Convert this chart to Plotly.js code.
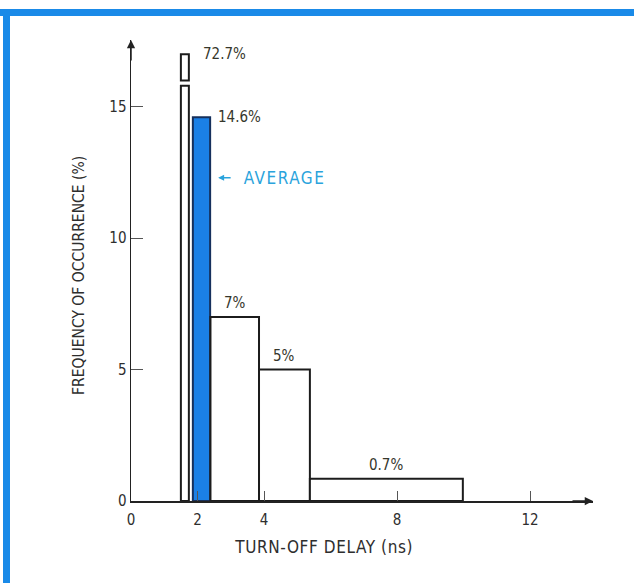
<!DOCTYPE html>
<html>
<head>
<meta charset="utf-8">
<script src="https://cdn.plot.ly/plotly-3.0.1.min.js"></script>
<style>
  html, body { margin: 0; padding: 0; background: #ffffff; }
  #chart { width: 634px; height: 583px; }
</style>
</head>
<body>
<div id="chart"></div>
<script>
// ---- data ----
const binLeft   = [1.50, 1.86, 2.39, 3.85, 5.38];   // ns
const binRight  = [1.74, 2.38, 3.85, 5.38, 9.98];   // ns
const freqValue = [72.7, 14.6, 7.0, 5.0, 0.85];     // % (drawn heights)
const freqLabel = ["72.7%", "14.6%", "7%", "5%", "0.7%"];
const averageIndex = 1;
const breakAt = 15.8, resumeAt = 16.0, capAt = 17.0; // broken tall bar
const xTickVals = [0, 2, 4, 8, 12];
const xTickText = ["0", "2", "4", "8", "12"];
const yTickVals = [0, 5, 10, 15];
const yTickText = ["0", "5", "10", "15"];
const xTitle = "TURN-OFF DELAY (ns)";
const yTitle = "FREQUENCY OF OCCURRENCE (%)";
const avgText = "AVERAGE";

// ---- layout geometry ----
const W = 634, H = 583;
const M = {l: 131, r: 41, t: 40, b: 82};
const PW = W - M.l - M.r, PH = H - M.t - M.b;
const px2x = px => (px - M.l) / PW;
const py2y = py => (H - M.b - py) / PH;

const FONT = "'Liberation Sans Narrow', 'DejaVu Sans Condensed', 'Arial Narrow', sans-serif";
const INK = "#222222";
const TXT = "#2e2e2e";
const LBL = "#36372c";
const BLUE = "#1b80e6";
const CYAN = "#2aa3dc";

const centers = binLeft.map((l, i) => (l + binRight[i]) / 2);
const widths = binLeft.map((l, i) => binRight[i] - l);
const lowerHeights = freqValue.map(v => Math.min(v, breakAt));
const fills = freqValue.map((v, i) => i === averageIndex ? BLUE : "#ffffff");
const lines = freqValue.map((v, i) => i === averageIndex ? "#16305c" : "#1c1c1c");

const broken = freqValue.map(v => v > breakAt);
const upX = centers.filter((c, i) => broken[i]);
const upW = widths.filter((w, i) => broken[i]);

const traces = [
  {
    type: "bar", x: centers, y: lowerHeights, width: widths,
    marker: {color: fills, line: {color: lines, width: 2}},
    hoverinfo: "skip", showlegend: false
  },
  {
    type: "bar", x: upX, y: upX.map(() => capAt - resumeAt), base: upX.map(() => resumeAt),
    width: upW,
    marker: {color: "#ffffff", line: {color: "#1c1c1c", width: 2}},
    hoverinfo: "skip", showlegend: false
  }
];

const annotations = [];
// value labels
freqValue.forEach((v, i) => {
  if (broken[i]) {
    annotations.push({x: binRight[i], y: capAt, xref: "x", yref: "y", text: freqLabel[i],
      showarrow: false, xanchor: "left", yanchor: "middle", xshift: 12,
      font: {family: FONT, size: 15, color: LBL}});
  } else if (i === averageIndex) {
    annotations.push({x: binRight[i], y: v, xref: "x", yref: "y", text: freqLabel[i],
      showarrow: false, xanchor: "left", yanchor: "middle", xshift: 6,
      font: {family: FONT, size: 15, color: LBL}});
  } else {
    annotations.push({x: centers[i], y: v, xref: "x", yref: "y", text: freqLabel[i],
      showarrow: false, xanchor: "center", yanchor: "bottom", yshift: 3,
      font: {family: FONT, size: 15, color: LBL}});
  }
});
// AVERAGE pointer
annotations.push({x: binRight[averageIndex], y: 12.3, xref: "x", yref: "y", text: "",
  showarrow: true, ax: 22, ay: 0, axref: "pixel", ayref: "pixel", arrowhead: 2,
  arrowsize: 0.8, arrowwidth: 1.5, arrowcolor: CYAN, standoff: 8});
annotations.push({x: binRight[averageIndex], y: 12.3, xref: "x", yref: "y", text: avgText,
  showarrow: false, xanchor: "left", yanchor: "middle", xshift: 37,
  font: {family: FONT, size: 17, color: CYAN}});
// axis arrows
annotations.push({x: 0, y: 1, xref: "x", yref: "paper", text: "", showarrow: true,
  ax: 0, ay: 22, arrowhead: 2, arrowsize: 1.1, arrowwidth: 1.5, arrowcolor: INK});
annotations.push({x: 1, y: 0, xref: "paper", yref: "y", text: "", showarrow: true,
  ax: -22, ay: 0, arrowhead: 2, arrowsize: 1.1, arrowwidth: 1.5, arrowcolor: INK});
// axis titles
annotations.push({x: px2x(238), y: py2y(547), xref: "paper", yref: "paper", text: xTitle,
  showarrow: false, xanchor: "left", yanchor: "middle",
  font: {family: FONT, size: 17, color: TXT}});
annotations.push({x: px2x(79), y: py2y(276), xref: "paper", yref: "paper", text: yTitle,
  showarrow: false, xanchor: "center", yanchor: "middle", textangle: -90,
  font: {family: FONT, size: 15.5, color: TXT}});

// blue frame (top and left edges)
const shapes = [
  {type: "rect", xref: "paper", yref: "paper", x0: px2x(0), x1: px2x(634), y0: py2y(16), y1: py2y(9),
   fillcolor: "#1a8ae8", line: {width: 0}, layer: "above"},
  {type: "rect", xref: "paper", yref: "paper", x0: px2x(3), x1: px2x(10), y0: py2y(583), y1: py2y(9),
   fillcolor: "#1a8ae8", line: {width: 0}, layer: "above"}
];

const layout = {
  width: W, height: H,
  margin: M,
  paper_bgcolor: "#ffffff", plot_bgcolor: "#ffffff",
  barmode: "overlay",
  font: {family: FONT, color: TXT},
  xaxis: {
    range: [0, PW / 33.25], showgrid: false, zeroline: false,
    showline: true, linecolor: INK, linewidth: 1.5,
    tickmode: "array", tickvals: xTickVals, ticktext: xTickText,
    ticks: "inside", ticklen: 10, tickwidth: 1, tickcolor: "#555",
    tickfont: {family: FONT, size: 15, color: TXT}, ticklabelstandoff: 4,
    fixedrange: true
  },
  yaxis: {
    range: [0, PH / 26.28], showgrid: false, zeroline: false,
    showline: true, linecolor: INK, linewidth: 1.5,
    tickmode: "array", tickvals: yTickVals, ticktext: yTickText,
    ticks: "inside", ticklen: 12, tickwidth: 1, tickcolor: "#555",
    tickfont: {family: FONT, size: 15, color: TXT}, ticklabelstandoff: 0,
    fixedrange: true
  },
  annotations: annotations,
  shapes: shapes
};

Plotly.newPlot("chart", traces, layout, {staticPlot: true, displayModeBar: false}).then(() => {
  // widen letter spacing on the spaced-out captions, as in the original print
  document.querySelectorAll(".annotation-text").forEach(t => {
    if (t.textContent === avgText) t.style.letterSpacing = "1.5px";
    if (t.textContent === xTitle) t.style.letterSpacing = "0.6px";
  });
});
</script>
</body>
</html>
